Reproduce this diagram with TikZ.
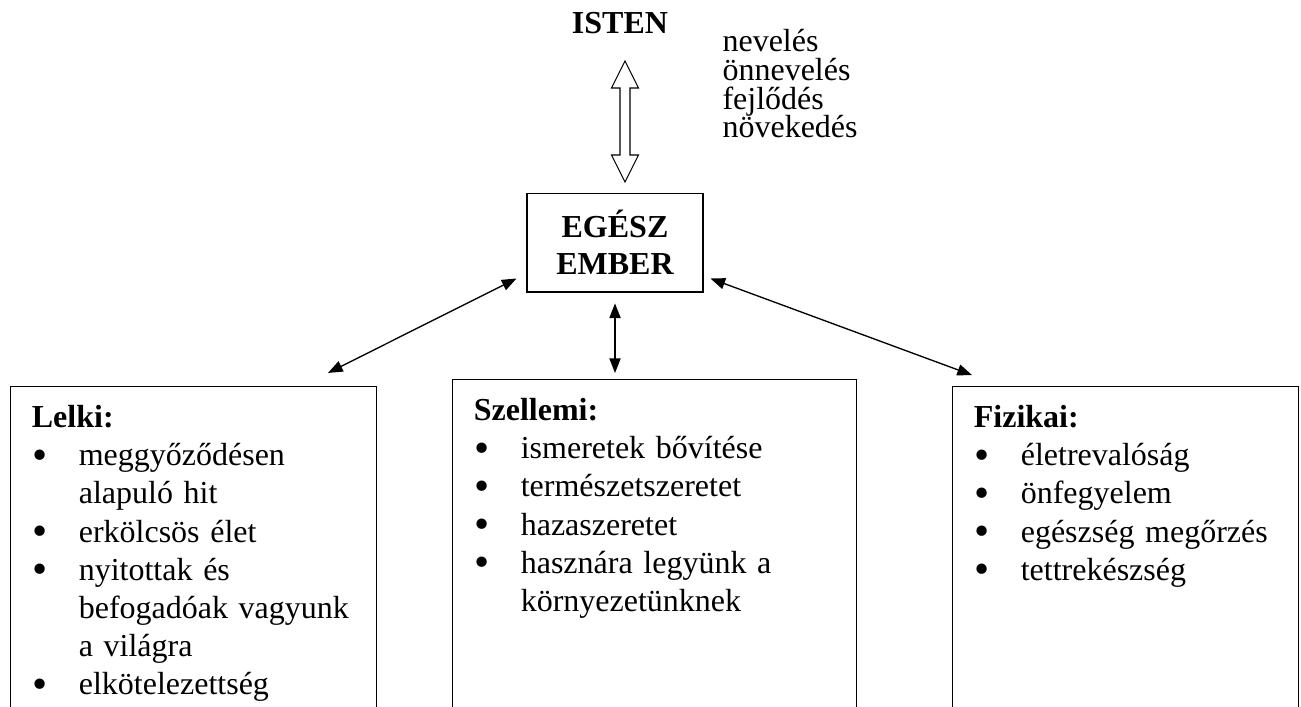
\documentclass[tikz,border=0pt]{standalone}
\usepackage{fontspec}
\setmainfont{Liberation Serif}
\usetikzlibrary{arrows.meta, positioning}

\newcommand{\bitem}[1]{\makebox[17.6pt][l]{\hspace{0.3pt}\raisebox{-0.11em}{\scalebox{1.35}{\textbullet}}}#1}
\newcommand{\bcont}[1]{\hspace{17.6pt}#1}
\newcommand{\tightlines}{\fontsize{12pt}{10.8pt}\selectfont\lineskiplimit=-20pt\relax}

\tikzset{
  every node/.style={font=\fontsize{12pt}{14.3pt}\selectfont},
  boldtext/.style={font=\fontsize{12pt}{13.9pt}\selectfont\bfseries},
  catbox/.style={draw, line width=0.4pt, anchor=north west, inner xsep=8pt, inner ysep=5.4pt, text width=#1, text depth=130pt},
  thinarrow/.style={line width=0.5pt, {Triangle[length=5.5pt,width=4.2pt]}-{Triangle[length=5.5pt,width=4.2pt]}},
  blockarrow/.style={line width=0.4pt, line join=miter}
}

\begin{document}
\begin{tikzpicture}[x=0.375pt, y=-0.375pt]
\useasboundingbox (0,0) rectangle (1301,706);
\clip (0,0) rectangle (1301,706);

\node[boldtext, inner sep=0pt] (isten) at (620,23) {ISTEN};
\node[anchor=base west, align=left, inner sep=0pt, font=\tightlines] (growth) at (722,138)
  {nevelés\\önnevelés\\fejlődés\\növekedés};

\node[draw, line width=0.4pt, boldtext, align=center, inner sep=0pt,
      minimum width=66pt, minimum height=37.1pt] (egesz) at (615,242.5) {EGÉSZ\\EMBER};

% hollow arrow between ISTEN and EGESZ EMBER
\coordinate (arrtop) at (625,61);
\coordinate (arrbot) at (625,182);
\draw[blockarrow] (arrtop) -- ++(13.5,27) -- ++(-8.5,0) -- ++(0,67) -- ++(8.5,0) -- (arrbot)
  -- ++(-13.5,-27) -- ++(8.5,0) -- ++(0,-67) -- ++(-8.5,0) -- cycle;

% the three sides
\node[catbox=121.25pt] (lelki) at (10,386) {\begin{tabular}[t]{@{}l@{}}
\textbf{Lelki:}\\
\bitem{meggyőződésen}\\
\bcont{alapuló hit}\\
\bitem{erkölcsös élet}\\
\bitem{nyitottak és}\\
\bcont{befogadóak vagyunk}\\
\bcont{a világra}\\
\bitem{elkötelezettség}
\end{tabular}};

\node[catbox=135.5pt] (szell) at (452,379) {\begin{tabular}[t]{@{}l@{}}
\textbf{Szellemi:}\\
\bitem{ismeretek bővítése}\\
\bitem{természetszeretet}\\
\bitem{hazaszeretet}\\
\bitem{hasznára legyünk a}\\
\bcont{környezetünknek}
\end{tabular}};

\node[catbox=113.75pt] (fiz) at (952,386) {\begin{tabular}[t]{@{}l@{}}
\textbf{Fizikai:}\\
\bitem{életrevalóság}\\
\bitem{önfegyelem}\\
\bitem{egészség megőrzés}\\
\bitem{tettrekészség}
\end{tabular}};

\draw[thinarrow] ([xshift=-3.75pt,yshift=5.25pt]egesz.south west) -- ([xshift=-18.4pt,yshift=4.9pt]lelki.north east);
\draw[thinarrow] ([yshift=-4.1pt]egesz.south) -- ([yshift=2.25pt]egesz.south |- szell.north);
\draw[thinarrow] ([xshift=2.6pt,yshift=5.25pt]egesz.south east) -- ([xshift=7.5pt,yshift=4.1pt]fiz.north west);

\end{tikzpicture}
\end{document}
